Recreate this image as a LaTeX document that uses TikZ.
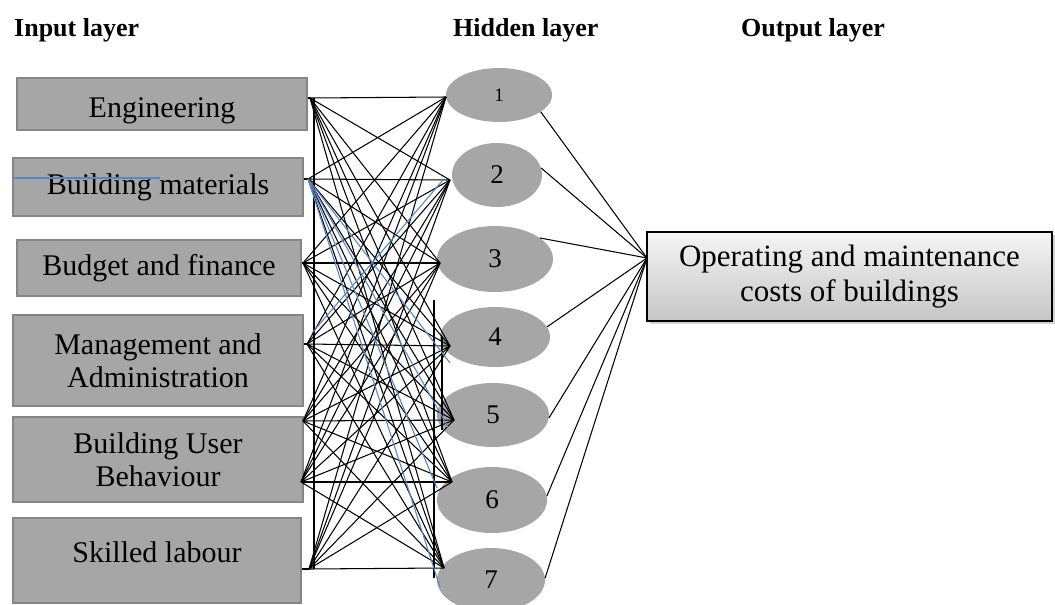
\documentclass[tikz,border=0pt]{standalone}
\usepackage{fontspec}
\setmainfont{Liberation Serif}
\usetikzlibrary{shadows,shapes.geometric}
\definecolor{boxgray}{HTML}{A6A6A6}
\definecolor{edgegray}{HTML}{858585}
\definecolor{linkblue}{HTML}{5B86C2}
\tikzset{
  title/.style={font=\bfseries\fontsize{26}{28}\selectfont, anchor=west, inner sep=0},
  inbox/.style={draw=edgegray, line width=1.2pt, fill=boxgray, inner sep=0,
    align=center, font=\fontsize{30}{33}\selectfont},
  neuron/.style={ellipse, fill=boxgray, inner sep=0, font=\fontsize{27}{29}\selectfont},
  outbox/.style={draw=black, line width=1.5pt, top color=gray!8, bottom color=gray!45,
    inner sep=0, align=center, font=\fontsize{31}{35}\selectfont,
    drop shadow={shadow xshift=3pt, shadow yshift=-3pt, fill=gray!70}},
  mesh/.style={black, line width=1.05pt},
  bluelink/.style={linkblue, line width=1.1pt},
}
\begin{document}
\begin{tikzpicture}[x=1pt,y=-1pt]
\useasboundingbox (0,0) rectangle (1055,605);

% layer titles
\node[title] (tin)  at (14,30)  {Input layer};
\node[title] (thid) at (453,30) {Hidden layer};
\node[title] (tout) at (741,30) {Output layer};

% input variables
\node[inbox, minimum width=290pt, minimum height=52pt, text height=32pt, text depth=6pt] (eng) at (162,104) {Engineering};
\node[inbox, minimum width=290pt, minimum height=58pt] (bm)  at (158,187)   {Building materials};
\node[inbox, minimum width=284pt, minimum height=56pt] (bf)  at (159,268)   {Budget and finance};
\node[inbox, minimum width=290pt, minimum height=91pt] (ma)  at (158,360.5) {Management and\\Administration};
\node[inbox, minimum width=290pt, minimum height=85pt] (bub) at (158,459.5) {Building User\\Behaviour};
\node[inbox, minimum width=288pt, minimum height=85pt, text height=20.5pt, text depth=17.5pt] (sl) at (157,560.5) {Skilled labour};

% stray blue stroke across the second box
\coordinate (bs1) at (13,178);
\coordinate (bs2) at (160,178);
\draw[bluelink] (bs1) -- (bs2);

% hidden neurons
\node[neuron, minimum width=106pt, minimum height=54pt, font=\fontsize{19}{21}\selectfont] (h1) at (499,95) {1};
\node[neuron, minimum width=90pt,  minimum height=64pt] (h2) at (497,175) {2};
\node[neuron, minimum width=116pt, minimum height=66pt] (h3) at (495,259) {3};
\node[neuron, minimum width=110pt, minimum height=60pt] (h4) at (495,337) {4};
\node[neuron, minimum width=112pt, minimum height=64pt] (h5) at (493,415) {5};
\node[neuron, minimum width=110pt, minimum height=66pt] (h6) at (492,500) {6};
\node[neuron, minimum width=108pt, minimum height=64pt] (h7) at (491,580) {7};

% output
\node[outbox, minimum width=405pt, minimum height=89pt] (out) at (849.5,276.5)
  {Operating and maintenance\\costs of buildings};
\coordinate (conv) at (647,258);

% junction points of the input-hidden mesh
\coordinate (L1) at (310,98);
\coordinate (L2) at (308,179);
\coordinate (L3) at (303,263);
\coordinate (L4) at (307,344);
\coordinate (L5) at (303,421);
\coordinate (L6) at (301,482);
\coordinate (L7) at (309,569);
\coordinate (R1) at (446,97);
\coordinate (R2) at (450,180);
\coordinate (R3) at (440,263);
\coordinate (R4) at (450,346);
\coordinate (R5) at (454,420);
\coordinate (R6) at (452,482);
\coordinate (R7) at (444,568);

% input nodes to their junctions
\draw[mesh] (eng.east |- L1) -- (L1);
\draw[mesh] (bm.east |- L2) -- (L2);
\draw[mesh] (bf.east |- L3) -- (L3);
\draw[mesh] (ma.east |- L4) -- (L4);
\draw[mesh] (bub.east |- L5) -- (L5);
\draw[mesh] (bub.east |- L6) -- (L6);
\draw[mesh] (sl.east |- L7) -- (L7);

% fully connected mesh
\foreach \i in {1,...,7}{
  \foreach \j in {1,...,7}{
    \draw[mesh] (L\i) -- (R\j);
  }
}

% vertical rails
\coordinate (VA1) at (314,98);
\coordinate (VA2) at (314,569);
\coordinate (VB1) at (434,300);
\coordinate (VB2) at (434,578);
\coordinate (VC1) at (442,337);
\coordinate (VC2) at (442,430);
\draw[mesh] (VA1) -- (VA2);
\draw[mesh] (VB1) -- (VB2);
\draw[mesh] (VC1) -- (VC2);

% blue links
\coordinate (B4) at (450,363);
\coordinate (B5) at (448,427);
\coordinate (B6) at (437,488);
\coordinate (B7) at (440,587);
\coordinate (B2) at (443,180);
\coordinate (L4b) at (312,333);
\draw[bluelink] (L2) -- (B4);
\draw[bluelink] (L2) -- (B5);
\draw[bluelink] (L2) -- (B6);
\draw[bluelink] (L2) -- (B7);
\draw[bluelink] (L4b) -- (B2);

% hidden to output
\draw[mesh] (h1.-22) -- (conv);
\draw[mesh] (h2.9)   -- (conv);
\draw[mesh] (h3.25)  -- (conv);
\draw[mesh] (h4.11)  -- (conv);
\draw[mesh] (h5.-3)  -- (conv);
\draw[mesh] (h6.4)   -- (conv);
\draw[mesh] (h7.2)   -- (conv);
\end{tikzpicture}
\end{document}
